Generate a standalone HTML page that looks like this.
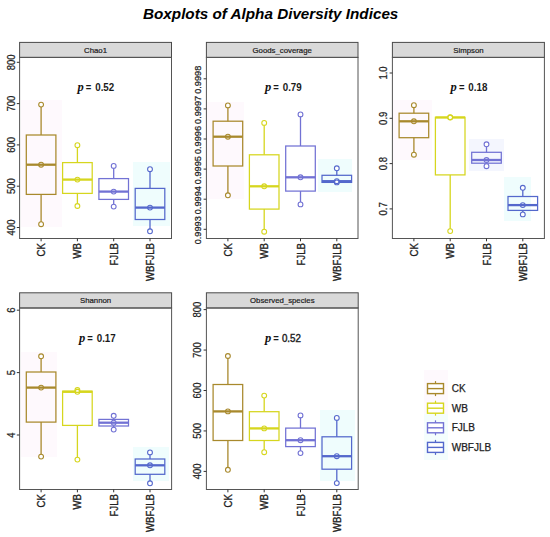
<!DOCTYPE html>
<html><head><meta charset="utf-8">
<style>
html,body{margin:0;padding:0;background:#fff;width:550px;height:537px;overflow:hidden}
svg{display:block}
text{font-family:"Liberation Sans", sans-serif}
</style></head><body>
<svg width="550" height="537" viewBox="0 0 550 537">
<rect width="550" height="537" fill="#fff"/>
<text x="143" y="19.3" font-size="15.25" font-weight="bold" font-style="italic" fill="#000">Boxplots of Alpha Diversity Indices</text>
<rect x="19.6" y="42.4" width="151.9" height="15" fill="#d9d9d9" stroke="#4a4a4a" stroke-width="1"/>
<text x="95.55" y="52.7" font-size="7.8" text-anchor="middle" fill="#1a1a1a" stroke="#1a1a1a" stroke-width="0.2">Chao1</text>
<rect x="21" y="100" width="41" height="127" fill="#fef9fd"/>
<rect x="133" y="162" width="37" height="64" fill="#effdfd"/>
<rect x="19.6" y="57.4" width="151.9" height="181.1" fill="none" stroke="#555" stroke-width="1"/>
<line x1="16.8" y1="62.3" x2="19.6" y2="62.3" stroke="#333" stroke-width="1"/>
<text transform="translate(14.5,62.3) rotate(-90) scale(1,1.06)" font-size="9.5" text-anchor="middle" fill="#222" stroke="#222" stroke-width="0.22">800</text>
<line x1="16.8" y1="103.6" x2="19.6" y2="103.6" stroke="#333" stroke-width="1"/>
<text transform="translate(14.5,103.6) rotate(-90) scale(1,1.06)" font-size="9.5" text-anchor="middle" fill="#222" stroke="#222" stroke-width="0.22">700</text>
<line x1="16.8" y1="144.9" x2="19.6" y2="144.9" stroke="#333" stroke-width="1"/>
<text transform="translate(14.5,144.9) rotate(-90) scale(1,1.06)" font-size="9.5" text-anchor="middle" fill="#222" stroke="#222" stroke-width="0.22">600</text>
<line x1="16.8" y1="186.2" x2="19.6" y2="186.2" stroke="#333" stroke-width="1"/>
<text transform="translate(14.5,186.2) rotate(-90) scale(1,1.06)" font-size="9.5" text-anchor="middle" fill="#222" stroke="#222" stroke-width="0.22">500</text>
<line x1="16.8" y1="227.5" x2="19.6" y2="227.5" stroke="#333" stroke-width="1"/>
<text transform="translate(14.5,227.5) rotate(-90) scale(1,1.06)" font-size="9.5" text-anchor="middle" fill="#222" stroke="#222" stroke-width="0.22">400</text>
<line x1="41.1" y1="238.5" x2="41.1" y2="241.3" stroke="#333" stroke-width="1"/>
<text transform="translate(45.1,243.1) rotate(-90) scale(1,1.12)" font-size="9.6" text-anchor="end" fill="#222" stroke="#222" stroke-width="0.3">CK</text>
<line x1="77.4" y1="238.5" x2="77.4" y2="241.3" stroke="#333" stroke-width="1"/>
<text transform="translate(81.4,243.1) rotate(-90) scale(1,1.12)" font-size="9.6" text-anchor="end" fill="#222" stroke="#222" stroke-width="0.3">WB</text>
<line x1="113.7" y1="238.5" x2="113.7" y2="241.3" stroke="#333" stroke-width="1"/>
<text transform="translate(117.7,243.1) rotate(-90) scale(1,1.12)" font-size="9.6" text-anchor="end" fill="#222" stroke="#222" stroke-width="0.3">FJLB</text>
<line x1="150" y1="238.5" x2="150" y2="241.3" stroke="#333" stroke-width="1"/>
<text transform="translate(154,243.1) rotate(-90) scale(1,1.12)" font-size="9.6" text-anchor="end" fill="#222" stroke="#222" stroke-width="0.3">WBFJLB</text>
<line x1="41.1" y1="104.6" x2="41.1" y2="135" stroke="#a8892c" stroke-width="1.3"/>
<line x1="41.1" y1="194.4" x2="41.1" y2="224.2" stroke="#a8892c" stroke-width="1.3"/>
<rect x="26.3" y="135" width="29.6" height="59.4" fill="none" stroke="#a8892c" stroke-width="1.25"/>
<line x1="26.3" y1="164.7" x2="55.9" y2="164.7" stroke="#a8892c" stroke-width="2.3"/>
<circle cx="41.1" cy="104.6" r="2.4" fill="#fff" stroke="#a8892c" stroke-width="1.1"/>
<circle cx="41.1" cy="224.2" r="2.4" fill="#fff" stroke="#a8892c" stroke-width="1.1"/>
<circle cx="41.1" cy="164.7" r="2.4" fill="none" stroke="#a8892c" stroke-width="1.1"/>
<line x1="77.4" y1="145.2" x2="77.4" y2="162.6" stroke="#d6d61e" stroke-width="1.3"/>
<line x1="77.4" y1="193.4" x2="77.4" y2="206" stroke="#d6d61e" stroke-width="1.3"/>
<rect x="62.6" y="162.6" width="29.6" height="30.8" fill="none" stroke="#d6d61e" stroke-width="1.25"/>
<line x1="62.6" y1="179.6" x2="92.2" y2="179.6" stroke="#d6d61e" stroke-width="2.3"/>
<circle cx="77.4" cy="145.2" r="2.4" fill="#fff" stroke="#d6d61e" stroke-width="1.1"/>
<circle cx="77.4" cy="206" r="2.4" fill="#fff" stroke="#d6d61e" stroke-width="1.1"/>
<circle cx="77.4" cy="179.6" r="2.4" fill="none" stroke="#d6d61e" stroke-width="1.1"/>
<line x1="113.7" y1="165.9" x2="113.7" y2="178.6" stroke="#7272d4" stroke-width="1.3"/>
<line x1="113.7" y1="199.4" x2="113.7" y2="206.6" stroke="#7272d4" stroke-width="1.3"/>
<rect x="98.9" y="178.6" width="29.6" height="20.8" fill="none" stroke="#7272d4" stroke-width="1.25"/>
<line x1="98.9" y1="191.6" x2="128.5" y2="191.6" stroke="#7272d4" stroke-width="2.3"/>
<circle cx="113.7" cy="165.9" r="2.4" fill="#fff" stroke="#7272d4" stroke-width="1.1"/>
<circle cx="113.7" cy="206.6" r="2.4" fill="#fff" stroke="#7272d4" stroke-width="1.1"/>
<circle cx="113.7" cy="191.6" r="2.4" fill="none" stroke="#7272d4" stroke-width="1.1"/>
<line x1="150" y1="169.2" x2="150" y2="188.4" stroke="#5468cc" stroke-width="1.3"/>
<line x1="150" y1="219.5" x2="150" y2="231.3" stroke="#5468cc" stroke-width="1.3"/>
<rect x="135.2" y="188.4" width="29.6" height="31.1" fill="none" stroke="#5468cc" stroke-width="1.25"/>
<line x1="135.2" y1="207.6" x2="164.8" y2="207.6" stroke="#5468cc" stroke-width="2.3"/>
<circle cx="150" cy="169.2" r="2.4" fill="#fff" stroke="#5468cc" stroke-width="1.1"/>
<circle cx="150" cy="231.3" r="2.4" fill="#fff" stroke="#5468cc" stroke-width="1.1"/>
<circle cx="150" cy="207.6" r="2.4" fill="none" stroke="#5468cc" stroke-width="1.1"/>
<text x="77.4" y="90.6" font-size="12.5" fill="#111" style='font-family:"Liberation Serif", serif' font-weight="bold" font-style="italic">p</text>
<text transform="translate(85.8,90.6) scale(0.95,1)" font-size="10" fill="#1a1a1a" font-weight="bold">=</text>
<text transform="translate(95.2,90.6) scale(0.95,1)" font-size="10.3" fill="#1a1a1a" font-weight="bold">0.52</text>
<rect x="206.4" y="42.4" width="151.6" height="15" fill="#d9d9d9" stroke="#4a4a4a" stroke-width="1"/>
<text x="282.2" y="52.7" font-size="7.8" text-anchor="middle" fill="#1a1a1a" stroke="#1a1a1a" stroke-width="0.2">Goods_coverage</text>
<rect x="207" y="102" width="37" height="97" fill="#fef9fd"/>
<rect x="318" y="159" width="34" height="33" fill="#effdfd"/>
<rect x="206.4" y="57.4" width="151.6" height="181.1" fill="none" stroke="#555" stroke-width="1"/>
<line x1="203.6" y1="78.8" x2="206.4" y2="78.8" stroke="#333" stroke-width="1"/>
<text transform="translate(201.3,79.8) rotate(-90) scale(1,1.06)" font-size="9.2" text-anchor="middle" fill="#222" stroke="#222" stroke-width="0.22">0.9998</text>
<line x1="203.6" y1="108.9" x2="206.4" y2="108.9" stroke="#333" stroke-width="1"/>
<text transform="translate(201.3,109.9) rotate(-90) scale(1,1.06)" font-size="9.2" text-anchor="middle" fill="#222" stroke="#222" stroke-width="0.22">0.9997</text>
<line x1="203.6" y1="139" x2="206.4" y2="139" stroke="#333" stroke-width="1"/>
<text transform="translate(201.3,140) rotate(-90) scale(1,1.06)" font-size="9.2" text-anchor="middle" fill="#222" stroke="#222" stroke-width="0.22">0.9996</text>
<line x1="203.6" y1="169.1" x2="206.4" y2="169.1" stroke="#333" stroke-width="1"/>
<text transform="translate(201.3,170.1) rotate(-90) scale(1,1.06)" font-size="9.2" text-anchor="middle" fill="#222" stroke="#222" stroke-width="0.22">0.9995</text>
<line x1="203.6" y1="199.2" x2="206.4" y2="199.2" stroke="#333" stroke-width="1"/>
<text transform="translate(201.3,200.2) rotate(-90) scale(1,1.06)" font-size="9.2" text-anchor="middle" fill="#222" stroke="#222" stroke-width="0.22">0.9994</text>
<line x1="203.6" y1="229.3" x2="206.4" y2="229.3" stroke="#333" stroke-width="1"/>
<text transform="translate(201.3,230.3) rotate(-90) scale(1,1.06)" font-size="9.2" text-anchor="middle" fill="#222" stroke="#222" stroke-width="0.22">0.9993</text>
<line x1="227.9" y1="238.5" x2="227.9" y2="241.3" stroke="#333" stroke-width="1"/>
<text transform="translate(231.9,243.1) rotate(-90) scale(1,1.12)" font-size="9.6" text-anchor="end" fill="#222" stroke="#222" stroke-width="0.3">CK</text>
<line x1="264.2" y1="238.5" x2="264.2" y2="241.3" stroke="#333" stroke-width="1"/>
<text transform="translate(268.2,243.1) rotate(-90) scale(1,1.12)" font-size="9.6" text-anchor="end" fill="#222" stroke="#222" stroke-width="0.3">WB</text>
<line x1="300.5" y1="238.5" x2="300.5" y2="241.3" stroke="#333" stroke-width="1"/>
<text transform="translate(304.5,243.1) rotate(-90) scale(1,1.12)" font-size="9.6" text-anchor="end" fill="#222" stroke="#222" stroke-width="0.3">FJLB</text>
<line x1="336.8" y1="238.5" x2="336.8" y2="241.3" stroke="#333" stroke-width="1"/>
<text transform="translate(340.8,243.1) rotate(-90) scale(1,1.12)" font-size="9.6" text-anchor="end" fill="#222" stroke="#222" stroke-width="0.3">WBFJLB</text>
<line x1="227.9" y1="105.4" x2="227.9" y2="121.2" stroke="#a8892c" stroke-width="1.3"/>
<line x1="227.9" y1="166" x2="227.9" y2="195.3" stroke="#a8892c" stroke-width="1.3"/>
<rect x="213.1" y="121.2" width="29.6" height="44.8" fill="none" stroke="#a8892c" stroke-width="1.25"/>
<line x1="213.1" y1="136.7" x2="242.7" y2="136.7" stroke="#a8892c" stroke-width="2.3"/>
<circle cx="227.9" cy="105.4" r="2.4" fill="#fff" stroke="#a8892c" stroke-width="1.1"/>
<circle cx="227.9" cy="195.3" r="2.4" fill="#fff" stroke="#a8892c" stroke-width="1.1"/>
<circle cx="227.9" cy="136.7" r="2.4" fill="none" stroke="#a8892c" stroke-width="1.1"/>
<line x1="264.2" y1="122.9" x2="264.2" y2="154.8" stroke="#d6d61e" stroke-width="1.3"/>
<line x1="264.2" y1="209.1" x2="264.2" y2="231.7" stroke="#d6d61e" stroke-width="1.3"/>
<rect x="249.4" y="154.8" width="29.6" height="54.3" fill="none" stroke="#d6d61e" stroke-width="1.25"/>
<line x1="249.4" y1="186.3" x2="279" y2="186.3" stroke="#d6d61e" stroke-width="2.3"/>
<circle cx="264.2" cy="122.9" r="2.4" fill="#fff" stroke="#d6d61e" stroke-width="1.1"/>
<circle cx="264.2" cy="231.7" r="2.4" fill="#fff" stroke="#d6d61e" stroke-width="1.1"/>
<circle cx="264.2" cy="186.3" r="2.4" fill="none" stroke="#d6d61e" stroke-width="1.1"/>
<line x1="300.5" y1="114.4" x2="300.5" y2="146" stroke="#7272d4" stroke-width="1.3"/>
<line x1="300.5" y1="191.1" x2="300.5" y2="204.4" stroke="#7272d4" stroke-width="1.3"/>
<rect x="285.7" y="146" width="29.6" height="45.1" fill="none" stroke="#7272d4" stroke-width="1.25"/>
<line x1="285.7" y1="177.3" x2="315.3" y2="177.3" stroke="#7272d4" stroke-width="2.3"/>
<circle cx="300.5" cy="114.4" r="2.4" fill="#fff" stroke="#7272d4" stroke-width="1.1"/>
<circle cx="300.5" cy="204.4" r="2.4" fill="#fff" stroke="#7272d4" stroke-width="1.1"/>
<circle cx="300.5" cy="177.3" r="2.4" fill="none" stroke="#7272d4" stroke-width="1.1"/>
<line x1="336.8" y1="168.3" x2="336.8" y2="175.3" stroke="#5468cc" stroke-width="1.3"/>
<line x1="336.8" y1="182.4" x2="336.8" y2="182.4" stroke="#5468cc" stroke-width="1.3"/>
<rect x="322" y="175.3" width="29.6" height="7.1" fill="none" stroke="#5468cc" stroke-width="1.25"/>
<line x1="322" y1="181.2" x2="351.6" y2="181.2" stroke="#5468cc" stroke-width="2.3"/>
<circle cx="336.8" cy="168.3" r="2.4" fill="#fff" stroke="#5468cc" stroke-width="1.1"/>
<circle cx="336.8" cy="182.4" r="2.4" fill="#fff" stroke="#5468cc" stroke-width="1.1"/>
<circle cx="336.8" cy="181.2" r="2.4" fill="none" stroke="#5468cc" stroke-width="1.1"/>
<text x="264.9" y="91" font-size="12.5" fill="#111" style='font-family:"Liberation Serif", serif' font-weight="bold" font-style="italic">p</text>
<text transform="translate(273.3,91) scale(0.95,1)" font-size="10" fill="#1a1a1a" font-weight="bold">=</text>
<text transform="translate(282.7,91) scale(0.95,1)" font-size="10.3" fill="#1a1a1a" font-weight="bold">0.79</text>
<rect x="392.4" y="42.4" width="152" height="15" fill="#d9d9d9" stroke="#4a4a4a" stroke-width="1"/>
<text x="468.4" y="52.7" font-size="7.8" text-anchor="middle" fill="#1a1a1a" stroke="#1a1a1a" stroke-width="0.2">Simpson</text>
<rect x="393" y="100" width="39" height="60" fill="#fef9fd"/>
<rect x="469" y="139" width="35" height="32" fill="#f4f6fe"/>
<rect x="504" y="177" width="27" height="44" fill="#effdfd"/>
<rect x="392.4" y="57.4" width="152" height="181.1" fill="none" stroke="#555" stroke-width="1"/>
<line x1="389.6" y1="73" x2="392.4" y2="73" stroke="#333" stroke-width="1"/>
<text transform="translate(387.3,73) rotate(-90) scale(1,1.06)" font-size="9.5" text-anchor="middle" fill="#222" stroke="#222" stroke-width="0.22">1.0</text>
<line x1="389.6" y1="118.3" x2="392.4" y2="118.3" stroke="#333" stroke-width="1"/>
<text transform="translate(387.3,118.3) rotate(-90) scale(1,1.06)" font-size="9.5" text-anchor="middle" fill="#222" stroke="#222" stroke-width="0.22">0.9</text>
<line x1="389.6" y1="163.6" x2="392.4" y2="163.6" stroke="#333" stroke-width="1"/>
<text transform="translate(387.3,163.6) rotate(-90) scale(1,1.06)" font-size="9.5" text-anchor="middle" fill="#222" stroke="#222" stroke-width="0.22">0.8</text>
<line x1="389.6" y1="208.9" x2="392.4" y2="208.9" stroke="#333" stroke-width="1"/>
<text transform="translate(387.3,208.9) rotate(-90) scale(1,1.06)" font-size="9.5" text-anchor="middle" fill="#222" stroke="#222" stroke-width="0.22">0.7</text>
<line x1="413.9" y1="238.5" x2="413.9" y2="241.3" stroke="#333" stroke-width="1"/>
<text transform="translate(417.9,243.1) rotate(-90) scale(1,1.12)" font-size="9.6" text-anchor="end" fill="#222" stroke="#222" stroke-width="0.3">CK</text>
<line x1="450.2" y1="238.5" x2="450.2" y2="241.3" stroke="#333" stroke-width="1"/>
<text transform="translate(454.2,243.1) rotate(-90) scale(1,1.12)" font-size="9.6" text-anchor="end" fill="#222" stroke="#222" stroke-width="0.3">WB</text>
<line x1="486.5" y1="238.5" x2="486.5" y2="241.3" stroke="#333" stroke-width="1"/>
<text transform="translate(490.5,243.1) rotate(-90) scale(1,1.12)" font-size="9.6" text-anchor="end" fill="#222" stroke="#222" stroke-width="0.3">FJLB</text>
<line x1="522.8" y1="238.5" x2="522.8" y2="241.3" stroke="#333" stroke-width="1"/>
<text transform="translate(526.8,243.1) rotate(-90) scale(1,1.12)" font-size="9.6" text-anchor="end" fill="#222" stroke="#222" stroke-width="0.3">WBFJLB</text>
<line x1="413.9" y1="105.2" x2="413.9" y2="113.2" stroke="#a8892c" stroke-width="1.3"/>
<line x1="413.9" y1="137.7" x2="413.9" y2="154.7" stroke="#a8892c" stroke-width="1.3"/>
<rect x="399.1" y="113.2" width="29.6" height="24.5" fill="none" stroke="#a8892c" stroke-width="1.25"/>
<line x1="399.1" y1="121.3" x2="428.7" y2="121.3" stroke="#a8892c" stroke-width="2.3"/>
<circle cx="413.9" cy="105.2" r="2.4" fill="#fff" stroke="#a8892c" stroke-width="1.1"/>
<circle cx="413.9" cy="154.7" r="2.4" fill="#fff" stroke="#a8892c" stroke-width="1.1"/>
<circle cx="413.9" cy="121.3" r="2.4" fill="none" stroke="#a8892c" stroke-width="1.1"/>
<line x1="450.2" y1="117.2" x2="450.2" y2="117.3" stroke="#d6d61e" stroke-width="1.3"/>
<line x1="450.2" y1="174.9" x2="450.2" y2="231.1" stroke="#d6d61e" stroke-width="1.3"/>
<rect x="435.4" y="117.3" width="29.6" height="57.6" fill="none" stroke="#d6d61e" stroke-width="1.25"/>
<line x1="435.4" y1="117.5" x2="465" y2="117.5" stroke="#d6d61e" stroke-width="2.3"/>
<circle cx="450.2" cy="117.2" r="2.4" fill="#fff" stroke="#d6d61e" stroke-width="1.1"/>
<circle cx="450.2" cy="231.1" r="2.4" fill="#fff" stroke="#d6d61e" stroke-width="1.1"/>
<circle cx="450.2" cy="117.5" r="2.4" fill="none" stroke="#d6d61e" stroke-width="1.1"/>
<line x1="486.5" y1="144.3" x2="486.5" y2="152.3" stroke="#7272d4" stroke-width="1.3"/>
<line x1="486.5" y1="163.2" x2="486.5" y2="166.2" stroke="#7272d4" stroke-width="1.3"/>
<rect x="471.7" y="152.3" width="29.6" height="10.9" fill="none" stroke="#7272d4" stroke-width="1.25"/>
<line x1="471.7" y1="160" x2="501.3" y2="160" stroke="#7272d4" stroke-width="2.3"/>
<circle cx="486.5" cy="144.3" r="2.4" fill="#fff" stroke="#7272d4" stroke-width="1.1"/>
<circle cx="486.5" cy="166.2" r="2.4" fill="#fff" stroke="#7272d4" stroke-width="1.1"/>
<circle cx="486.5" cy="160" r="2.4" fill="none" stroke="#7272d4" stroke-width="1.1"/>
<line x1="522.8" y1="187.8" x2="522.8" y2="196.5" stroke="#5468cc" stroke-width="1.3"/>
<line x1="522.8" y1="210.4" x2="522.8" y2="214.4" stroke="#5468cc" stroke-width="1.3"/>
<rect x="508" y="196.5" width="29.6" height="13.9" fill="none" stroke="#5468cc" stroke-width="1.25"/>
<line x1="508" y1="205.1" x2="537.6" y2="205.1" stroke="#5468cc" stroke-width="2.3"/>
<circle cx="522.8" cy="187.8" r="2.4" fill="#fff" stroke="#5468cc" stroke-width="1.1"/>
<circle cx="522.8" cy="214.4" r="2.4" fill="#fff" stroke="#5468cc" stroke-width="1.1"/>
<circle cx="522.8" cy="205.1" r="2.4" fill="none" stroke="#5468cc" stroke-width="1.1"/>
<text x="450.5" y="91" font-size="12.5" fill="#111" style='font-family:"Liberation Serif", serif' font-weight="bold" font-style="italic">p</text>
<text transform="translate(458.9,91) scale(0.95,1)" font-size="10" fill="#1a1a1a" font-weight="bold">=</text>
<text transform="translate(468.3,91) scale(0.95,1)" font-size="10.3" fill="#1a1a1a" font-weight="bold">0.18</text>
<rect x="19.6" y="292.8" width="152" height="15.2" fill="#d9d9d9" stroke="#4a4a4a" stroke-width="1"/>
<text x="95.6" y="303.1" font-size="7.8" text-anchor="middle" fill="#1a1a1a" stroke="#1a1a1a" stroke-width="0.2">Shannon</text>
<rect x="21" y="352" width="36" height="105" fill="#fef9fd"/>
<rect x="133" y="447" width="36" height="34" fill="#effdfd"/>
<rect x="19.6" y="308" width="152" height="181.5" fill="none" stroke="#555" stroke-width="1"/>
<line x1="16.8" y1="310.2" x2="19.6" y2="310.2" stroke="#333" stroke-width="1"/>
<text transform="translate(14.5,310.2) rotate(-90) scale(1,1.06)" font-size="9.5" text-anchor="middle" fill="#222" stroke="#222" stroke-width="0.22">6</text>
<line x1="16.8" y1="372.6" x2="19.6" y2="372.6" stroke="#333" stroke-width="1"/>
<text transform="translate(14.5,372.6) rotate(-90) scale(1,1.06)" font-size="9.5" text-anchor="middle" fill="#222" stroke="#222" stroke-width="0.22">5</text>
<line x1="16.8" y1="435" x2="19.6" y2="435" stroke="#333" stroke-width="1"/>
<text transform="translate(14.5,435) rotate(-90) scale(1,1.06)" font-size="9.5" text-anchor="middle" fill="#222" stroke="#222" stroke-width="0.22">4</text>
<line x1="41.1" y1="489.5" x2="41.1" y2="492.3" stroke="#333" stroke-width="1"/>
<text transform="translate(45.1,494.1) rotate(-90) scale(1,1.12)" font-size="9.6" text-anchor="end" fill="#222" stroke="#222" stroke-width="0.3">CK</text>
<line x1="77.4" y1="489.5" x2="77.4" y2="492.3" stroke="#333" stroke-width="1"/>
<text transform="translate(81.4,494.1) rotate(-90) scale(1,1.12)" font-size="9.6" text-anchor="end" fill="#222" stroke="#222" stroke-width="0.3">WB</text>
<line x1="113.7" y1="489.5" x2="113.7" y2="492.3" stroke="#333" stroke-width="1"/>
<text transform="translate(117.7,494.1) rotate(-90) scale(1,1.12)" font-size="9.6" text-anchor="end" fill="#222" stroke="#222" stroke-width="0.3">FJLB</text>
<line x1="150" y1="489.5" x2="150" y2="492.3" stroke="#333" stroke-width="1"/>
<text transform="translate(154,494.1) rotate(-90) scale(1,1.12)" font-size="9.6" text-anchor="end" fill="#222" stroke="#222" stroke-width="0.3">WBFJLB</text>
<line x1="41.1" y1="356.3" x2="41.1" y2="372" stroke="#a8892c" stroke-width="1.3"/>
<line x1="41.1" y1="422.1" x2="41.1" y2="456.6" stroke="#a8892c" stroke-width="1.3"/>
<rect x="26.3" y="372" width="29.6" height="50.1" fill="none" stroke="#a8892c" stroke-width="1.25"/>
<line x1="26.3" y1="387.6" x2="55.9" y2="387.6" stroke="#a8892c" stroke-width="2.3"/>
<circle cx="41.1" cy="356.3" r="2.4" fill="#fff" stroke="#a8892c" stroke-width="1.1"/>
<circle cx="41.1" cy="456.6" r="2.4" fill="#fff" stroke="#a8892c" stroke-width="1.1"/>
<circle cx="41.1" cy="387.6" r="2.4" fill="none" stroke="#a8892c" stroke-width="1.1"/>
<line x1="77.4" y1="390" x2="77.4" y2="391.2" stroke="#d6d61e" stroke-width="1.3"/>
<line x1="77.4" y1="425.4" x2="77.4" y2="459.6" stroke="#d6d61e" stroke-width="1.3"/>
<rect x="62.6" y="391.2" width="29.6" height="34.2" fill="none" stroke="#d6d61e" stroke-width="1.25"/>
<line x1="62.6" y1="391.8" x2="92.2" y2="391.8" stroke="#d6d61e" stroke-width="2.3"/>
<circle cx="77.4" cy="390" r="2.4" fill="#fff" stroke="#d6d61e" stroke-width="1.1"/>
<circle cx="77.4" cy="459.6" r="2.4" fill="#fff" stroke="#d6d61e" stroke-width="1.1"/>
<circle cx="77.4" cy="391.8" r="2.4" fill="none" stroke="#d6d61e" stroke-width="1.1"/>
<line x1="113.7" y1="415.8" x2="113.7" y2="419.4" stroke="#7272d4" stroke-width="1.3"/>
<line x1="113.7" y1="426" x2="113.7" y2="429.6" stroke="#7272d4" stroke-width="1.3"/>
<rect x="98.9" y="419.4" width="29.6" height="6.6" fill="none" stroke="#7272d4" stroke-width="1.25"/>
<line x1="98.9" y1="422.7" x2="128.5" y2="422.7" stroke="#7272d4" stroke-width="2.3"/>
<circle cx="113.7" cy="415.8" r="2.4" fill="#fff" stroke="#7272d4" stroke-width="1.1"/>
<circle cx="113.7" cy="429.6" r="2.4" fill="#fff" stroke="#7272d4" stroke-width="1.1"/>
<circle cx="113.7" cy="422.7" r="2.4" fill="none" stroke="#7272d4" stroke-width="1.1"/>
<line x1="150" y1="452.4" x2="150" y2="459" stroke="#5468cc" stroke-width="1.3"/>
<line x1="150" y1="474.3" x2="150" y2="483.3" stroke="#5468cc" stroke-width="1.3"/>
<rect x="135.2" y="459" width="29.6" height="15.3" fill="none" stroke="#5468cc" stroke-width="1.25"/>
<line x1="135.2" y1="465.3" x2="164.8" y2="465.3" stroke="#5468cc" stroke-width="2.3"/>
<circle cx="150" cy="452.4" r="2.4" fill="#fff" stroke="#5468cc" stroke-width="1.1"/>
<circle cx="150" cy="483.3" r="2.4" fill="#fff" stroke="#5468cc" stroke-width="1.1"/>
<circle cx="150" cy="465.3" r="2.4" fill="none" stroke="#5468cc" stroke-width="1.1"/>
<text x="78.9" y="342" font-size="12.5" fill="#111" style='font-family:"Liberation Serif", serif' font-weight="bold" font-style="italic">p</text>
<text transform="translate(87.3,342) scale(0.95,1)" font-size="10" fill="#1a1a1a" font-weight="bold">=</text>
<text transform="translate(96.7,342) scale(0.95,1)" font-size="10.3" fill="#1a1a1a" font-weight="bold">0.17</text>
<rect x="206.4" y="292.8" width="151.8" height="15.2" fill="#d9d9d9" stroke="#4a4a4a" stroke-width="1"/>
<text x="282.3" y="303.1" font-size="7.8" text-anchor="middle" fill="#1a1a1a" stroke="#1a1a1a" stroke-width="0.2">Observed_species</text>
<rect x="320" y="410" width="35" height="71" fill="#effdfd"/>
<rect x="206.4" y="308" width="151.8" height="181.5" fill="none" stroke="#555" stroke-width="1"/>
<line x1="203.6" y1="309.6" x2="206.4" y2="309.6" stroke="#333" stroke-width="1"/>
<text transform="translate(201.3,309.6) rotate(-90) scale(1,1.06)" font-size="9.5" text-anchor="middle" fill="#222" stroke="#222" stroke-width="0.22">800</text>
<line x1="203.6" y1="350.05" x2="206.4" y2="350.05" stroke="#333" stroke-width="1"/>
<text transform="translate(201.3,350.05) rotate(-90) scale(1,1.06)" font-size="9.5" text-anchor="middle" fill="#222" stroke="#222" stroke-width="0.22">700</text>
<line x1="203.6" y1="390.5" x2="206.4" y2="390.5" stroke="#333" stroke-width="1"/>
<text transform="translate(201.3,390.5) rotate(-90) scale(1,1.06)" font-size="9.5" text-anchor="middle" fill="#222" stroke="#222" stroke-width="0.22">600</text>
<line x1="203.6" y1="430.95" x2="206.4" y2="430.95" stroke="#333" stroke-width="1"/>
<text transform="translate(201.3,430.95) rotate(-90) scale(1,1.06)" font-size="9.5" text-anchor="middle" fill="#222" stroke="#222" stroke-width="0.22">500</text>
<line x1="203.6" y1="471.4" x2="206.4" y2="471.4" stroke="#333" stroke-width="1"/>
<text transform="translate(201.3,471.4) rotate(-90) scale(1,1.06)" font-size="9.5" text-anchor="middle" fill="#222" stroke="#222" stroke-width="0.22">400</text>
<line x1="227.9" y1="489.5" x2="227.9" y2="492.3" stroke="#333" stroke-width="1"/>
<text transform="translate(231.9,494.1) rotate(-90) scale(1,1.12)" font-size="9.6" text-anchor="end" fill="#222" stroke="#222" stroke-width="0.3">CK</text>
<line x1="264.2" y1="489.5" x2="264.2" y2="492.3" stroke="#333" stroke-width="1"/>
<text transform="translate(268.2,494.1) rotate(-90) scale(1,1.12)" font-size="9.6" text-anchor="end" fill="#222" stroke="#222" stroke-width="0.3">WB</text>
<line x1="300.5" y1="489.5" x2="300.5" y2="492.3" stroke="#333" stroke-width="1"/>
<text transform="translate(304.5,494.1) rotate(-90) scale(1,1.12)" font-size="9.6" text-anchor="end" fill="#222" stroke="#222" stroke-width="0.3">FJLB</text>
<line x1="336.8" y1="489.5" x2="336.8" y2="492.3" stroke="#333" stroke-width="1"/>
<text transform="translate(340.8,494.1) rotate(-90) scale(1,1.12)" font-size="9.6" text-anchor="end" fill="#222" stroke="#222" stroke-width="0.3">WBFJLB</text>
<line x1="227.9" y1="356" x2="227.9" y2="384.5" stroke="#a8892c" stroke-width="1.3"/>
<line x1="227.9" y1="440.5" x2="227.9" y2="469.8" stroke="#a8892c" stroke-width="1.3"/>
<rect x="213.1" y="384.5" width="29.6" height="56" fill="none" stroke="#a8892c" stroke-width="1.25"/>
<line x1="213.1" y1="411.4" x2="242.7" y2="411.4" stroke="#a8892c" stroke-width="2.3"/>
<circle cx="227.9" cy="356" r="2.4" fill="#fff" stroke="#a8892c" stroke-width="1.1"/>
<circle cx="227.9" cy="469.8" r="2.4" fill="#fff" stroke="#a8892c" stroke-width="1.1"/>
<circle cx="227.9" cy="411.4" r="2.4" fill="none" stroke="#a8892c" stroke-width="1.1"/>
<line x1="264.2" y1="395.6" x2="264.2" y2="411.7" stroke="#d6d61e" stroke-width="1.3"/>
<line x1="264.2" y1="440.5" x2="264.2" y2="452.2" stroke="#d6d61e" stroke-width="1.3"/>
<rect x="249.4" y="411.7" width="29.6" height="28.8" fill="none" stroke="#d6d61e" stroke-width="1.25"/>
<line x1="249.4" y1="428.4" x2="279" y2="428.4" stroke="#d6d61e" stroke-width="2.3"/>
<circle cx="264.2" cy="395.6" r="2.4" fill="#fff" stroke="#d6d61e" stroke-width="1.1"/>
<circle cx="264.2" cy="452.2" r="2.4" fill="#fff" stroke="#d6d61e" stroke-width="1.1"/>
<circle cx="264.2" cy="428.4" r="2.4" fill="none" stroke="#d6d61e" stroke-width="1.1"/>
<line x1="300.5" y1="415.4" x2="300.5" y2="428.1" stroke="#7272d4" stroke-width="1.3"/>
<line x1="300.5" y1="446.6" x2="300.5" y2="453.1" stroke="#7272d4" stroke-width="1.3"/>
<rect x="285.7" y="428.1" width="29.6" height="18.5" fill="none" stroke="#7272d4" stroke-width="1.25"/>
<line x1="285.7" y1="440.2" x2="315.3" y2="440.2" stroke="#7272d4" stroke-width="2.3"/>
<circle cx="300.5" cy="415.4" r="2.4" fill="#fff" stroke="#7272d4" stroke-width="1.1"/>
<circle cx="300.5" cy="453.1" r="2.4" fill="#fff" stroke="#7272d4" stroke-width="1.1"/>
<circle cx="300.5" cy="440.2" r="2.4" fill="none" stroke="#7272d4" stroke-width="1.1"/>
<line x1="336.8" y1="417.9" x2="336.8" y2="436.8" stroke="#5468cc" stroke-width="1.3"/>
<line x1="336.8" y1="469.2" x2="336.8" y2="483.1" stroke="#5468cc" stroke-width="1.3"/>
<rect x="322" y="436.8" width="29.6" height="32.4" fill="none" stroke="#5468cc" stroke-width="1.25"/>
<line x1="322" y1="456.2" x2="351.6" y2="456.2" stroke="#5468cc" stroke-width="2.3"/>
<circle cx="336.8" cy="417.9" r="2.4" fill="#fff" stroke="#5468cc" stroke-width="1.1"/>
<circle cx="336.8" cy="483.1" r="2.4" fill="#fff" stroke="#5468cc" stroke-width="1.1"/>
<circle cx="336.8" cy="456.2" r="2.4" fill="none" stroke="#5468cc" stroke-width="1.1"/>
<text x="264.9" y="341.5" font-size="12.5" fill="#111" style='font-family:"Liberation Serif", serif' font-weight="bold" font-style="italic">p</text>
<text transform="translate(273.3,341.5) scale(0.95,1)" font-size="10" fill="#1a1a1a" font-weight="bold">=</text>
<text transform="translate(281.9,341.5) scale(0.95,1)" font-size="10.3" fill="#222" stroke="#222" stroke-width="0.4">0.52</text>
<rect x="424" y="370" width="24" height="44" fill="#fef9fd"/>
<rect x="424" y="414" width="24" height="46" fill="#f4fdfd"/>
<line x1="435.5" y1="381.1" x2="435.5" y2="396.1" stroke="#a8892c" stroke-width="1.2"/>
<rect x="427.5" y="383.6" width="16" height="10" fill="#fff" stroke="#a8892c" stroke-width="1.4"/>
<line x1="427.5" y1="388.6" x2="443.5" y2="388.6" stroke="#a8892c" stroke-width="1.4"/>
<text x="451.7" y="392.2" font-size="10" fill="#222" stroke="#222" stroke-width="0.25">CK</text>
<line x1="435.5" y1="400.7" x2="435.5" y2="415.7" stroke="#d6d61e" stroke-width="1.2"/>
<rect x="427.5" y="403.2" width="16" height="10" fill="#fff" stroke="#d6d61e" stroke-width="1.4"/>
<line x1="427.5" y1="408.2" x2="443.5" y2="408.2" stroke="#d6d61e" stroke-width="1.4"/>
<text x="451.7" y="411.8" font-size="10" fill="#222" stroke="#222" stroke-width="0.25">WB</text>
<line x1="435.5" y1="420.3" x2="435.5" y2="435.3" stroke="#7272d4" stroke-width="1.2"/>
<rect x="427.5" y="422.8" width="16" height="10" fill="#fff" stroke="#7272d4" stroke-width="1.4"/>
<line x1="427.5" y1="427.8" x2="443.5" y2="427.8" stroke="#7272d4" stroke-width="1.4"/>
<text x="451.7" y="431.4" font-size="10" fill="#222" stroke="#222" stroke-width="0.25">FJLB</text>
<line x1="435.5" y1="439.9" x2="435.5" y2="454.9" stroke="#5468cc" stroke-width="1.2"/>
<rect x="427.5" y="442.4" width="16" height="10" fill="#fff" stroke="#5468cc" stroke-width="1.4"/>
<line x1="427.5" y1="447.4" x2="443.5" y2="447.4" stroke="#5468cc" stroke-width="1.4"/>
<text x="451.7" y="451" font-size="10" fill="#222" stroke="#222" stroke-width="0.25">WBFJLB</text>
</svg>
</body></html>
